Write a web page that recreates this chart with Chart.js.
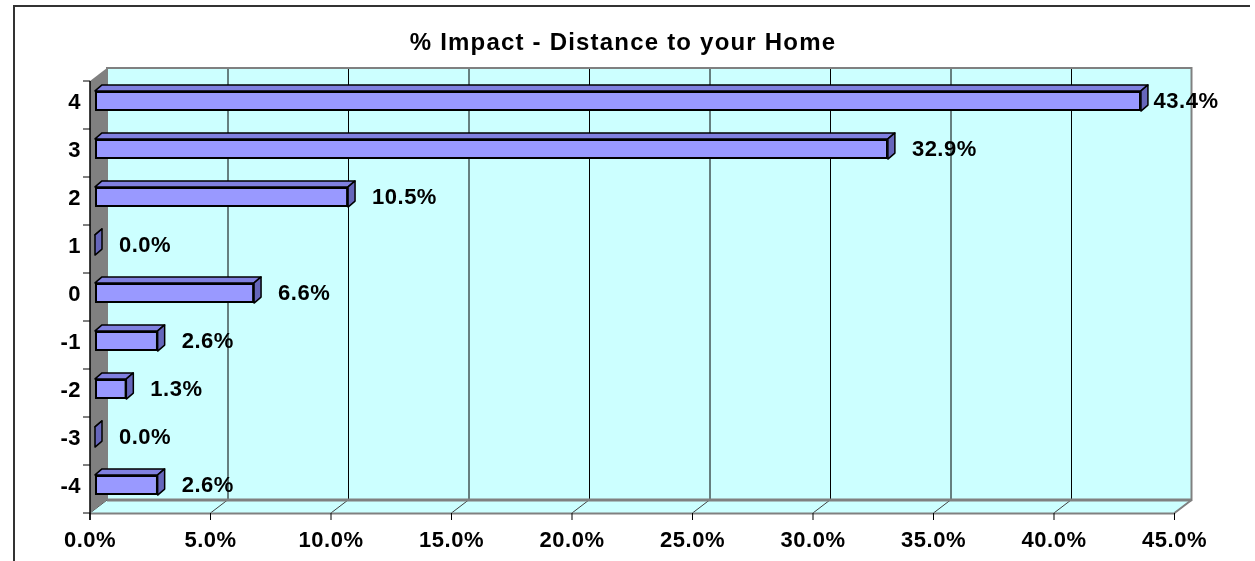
<!DOCTYPE html>
<html>
<head>
<meta charset="utf-8">
<title>% Impact - Distance to your Home</title>
<script src="https://cdn.jsdelivr.net/npm/chart.js@4.4.1/dist/chart.umd.min.js"></script>
<style>
  html, body { margin: 0; padding: 0; background: #fff; }
  #wrap { width: 1255px; height: 561px; }
</style>
</head>
<body>
<div id="wrap"><canvas id="impactChart" width="1255" height="561"></canvas></div>
<script>
// values
const categories = ["4", "3", "2", "1", "0", "-1", "-2", "-3", "-4"];
const impactValues = [43.4, 32.9, 10.5, 0.0, 6.6, 2.6, 1.3, 0.0, 2.6];
const xTickLabels = ["0.0%", "5.0%", "10.0%", "15.0%", "20.0%", "25.0%", "30.0%", "35.0%", "40.0%", "45.0%"];
const chartTitle = "% Impact - Distance to your Home";

const FONT = '"Liberation Sans", Arial, sans-serif';

// 3D offsets relative to the bar plane (chart area)
const backOff = { x: 12, y: -9 };
const frontOff = { x: -5, y: 4 };
const barDepth = { x: 7, y: -6 };

function poly(ctx, pts, fill, stroke, lw) {
  ctx.beginPath();
  ctx.moveTo(pts[0][0], pts[0][1]);
  for (let i = 1; i < pts.length; i++) ctx.lineTo(pts[i][0], pts[i][1]);
  ctx.closePath();
  if (fill) { ctx.fillStyle = fill; ctx.fill(); }
  if (stroke) { ctx.strokeStyle = stroke; ctx.lineWidth = lw || 1; ctx.stroke(); }
}

function line(ctx, x1, y1, x2, y2, color, lw) {
  ctx.beginPath();
  ctx.moveTo(x1, y1);
  ctx.lineTo(x2, y2);
  ctx.strokeStyle = color;
  ctx.lineWidth = lw;
  ctx.stroke();
}

// walls, floor, gridlines and front axes
const wallsPlugin = {
  id: "walls3d",
  beforeDraw(chart) {
    // text in the original is a bit wider than plain Arial
    chart.ctx.letterSpacing = "0.5px";
  },
  beforeDatasetsDraw(chart) {
    const { ctx, chartArea: a, scales } = chart;
    const xs = scales.x, ys = scales.y;
    const L = a.left, R = a.right, T = a.top, B = a.bottom;
    const bx = backOff.x, by = backOff.y, fx = frontOff.x, fy = frontOff.y;
    ctx.save();

    // back wall
    ctx.fillStyle = "#CCFFFF";
    ctx.fillRect(L + bx, T + by, R - L, B - T);
    xs.ticks.forEach((t) => {
      const px = xs.getPixelForValue(t.value);
      if (t.value > 0 && t.value < 45) line(ctx, px + bx + 0.5, T + by, px + bx + 0.5, B + by, "#000", 1);
    });
    ctx.strokeStyle = "#808080";
    ctx.lineWidth = 2;
    ctx.strokeRect(L + bx, T + by, R - L, B - T);

    // floor
    poly(ctx, [[L + fx, B + fy], [R + fx, B + fy], [R + bx, B + by], [L + bx, B + by]], "#CCFFFF");
    xs.ticks.forEach((t) => {
      const px = xs.getPixelForValue(t.value);
      line(ctx, px + fx, B + fy, px + bx, B + by, "#404040", 1);
    });
    line(ctx, L + fx, B + fy + 0.5, R + fx, B + fy + 0.5, "#808080", 2);
    line(ctx, R + fx, B + fy, R + bx, B + by, "#808080", 2);
    line(ctx, L + bx, B + by, R + bx, B + by, "#808080", 3);

    // left wall
    poly(ctx, [[L + fx, T + fy], [L + bx, T + by], [L + bx, B + by], [L + fx, B + fy]], "#808080");

    // front axes and tick marks
    line(ctx, L + fx, T + fy, L + fx, B + fy + 7, "#000", 1.5);
    for (let i = 0; i <= categories.length; i++) {
      const py = ys.getPixelForValue(i - 0.5) + fy;
      line(ctx, L + fx - 7, py, L + fx, py, "#000", 1);
    }
    xs.ticks.forEach((t) => {
      const px = xs.getPixelForValue(t.value) + fx;
      line(ctx, px, B + fy, px, B + fy + 7, "#000", 1);
    });
    ctx.restore();
  },
  afterDatasetsDraw(chart) {
    const { ctx, chartArea: a } = chart;
    const meta = chart.getDatasetMeta(0);
    const dx = barDepth.x, dy = barDepth.y;
    ctx.save();
    ctx.lineJoin = "round";
    meta.data.forEach((bar) => {
      const p = bar.getProps(["x", "y", "base", "height"], true);
      const top = p.y - p.height / 2, bottom = p.y + p.height / 2;
      poly(ctx, [[p.base, top], [p.base + dx, top + dy], [p.x + dx, top + dy], [p.x, top]], "#8080E0", "#000", 1.5);
      poly(ctx, [[p.x, top], [p.x + dx, top + dy], [p.x + dx, bottom + dy], [p.x, bottom]], "#6666BB", "#000", 1.5);
    });

    // value labels
    ctx.font = "bold 22px " + FONT;
    ctx.fillStyle = "#000";
    ctx.textBaseline = "middle";
    ctx.textAlign = "left";
    meta.data.forEach((bar, i) => {
      const txt = impactValues[i].toFixed(1) + "%";
      const w = ctx.measureText(txt).width;
      const lx = Math.min(bar.x + 24, a.right + 39 - w);
      ctx.fillText(txt, lx, bar.y + 1);
    });
    ctx.restore();
  },
  afterDraw(chart) {
    const ctx = chart.ctx;
    ctx.save();
    // title
    ctx.letterSpacing = "1.2px";
    ctx.font = "bold 24px " + FONT;
    ctx.fillStyle = "#000";
    ctx.textAlign = "center";
    ctx.textBaseline = "middle";
    ctx.fillText(chartTitle, 623, 43);
    // outer frame
    line(ctx, 14, 6, 14, 561, "#333", 2);
    line(ctx, 13, 6, 1250, 6, "#333", 2);
    ctx.restore();
  }
};

Chart.defaults.font.family = FONT;
Chart.defaults.color = "#000";

new Chart(document.getElementById("impactChart"), {
  type: "bar",
  data: {
    labels: categories,
    datasets: [{
      label: "% Impact",
      data: impactValues,
      backgroundColor: "#9999FF",
      borderColor: "#000",
      borderWidth: 2,
      borderSkipped: false,
      categoryPercentage: 1,
      barPercentage: 0.42
    }]
  },
  options: {
    indexAxis: "y",
    responsive: false,
    animation: false,
    layout: { padding: { left: 0, right: 75.5, top: 77, bottom: 0 } },
    plugins: {
      legend: { display: false },
      tooltip: { enabled: false },
      title: { display: false }
    },
    scales: {
      x: {
        type: "linear",
        min: 0,
        max: 45,
        ticks: {
          stepSize: 5,
          padding: 19,
          labelOffset: -5,
          autoSkip: false,
          maxRotation: 0,
          font: { size: 22, weight: "bold" },
          callback: (v, i) => xTickLabels[i]
        },
        grid: { display: false, drawTicks: false },
        border: { display: false },
        afterFit: (s) => { s.height = 52; }
      },
      y: {
        ticks: {
          padding: 14,
          labelOffset: 2,
          font: { size: 22, weight: "bold" }
        },
        grid: { display: false, drawTicks: false },
        border: { display: false },
        afterFit: (s) => { s.width = 95; }
      }
    }
  },
  plugins: [wallsPlugin]
});
</script>
</body>
</html>
